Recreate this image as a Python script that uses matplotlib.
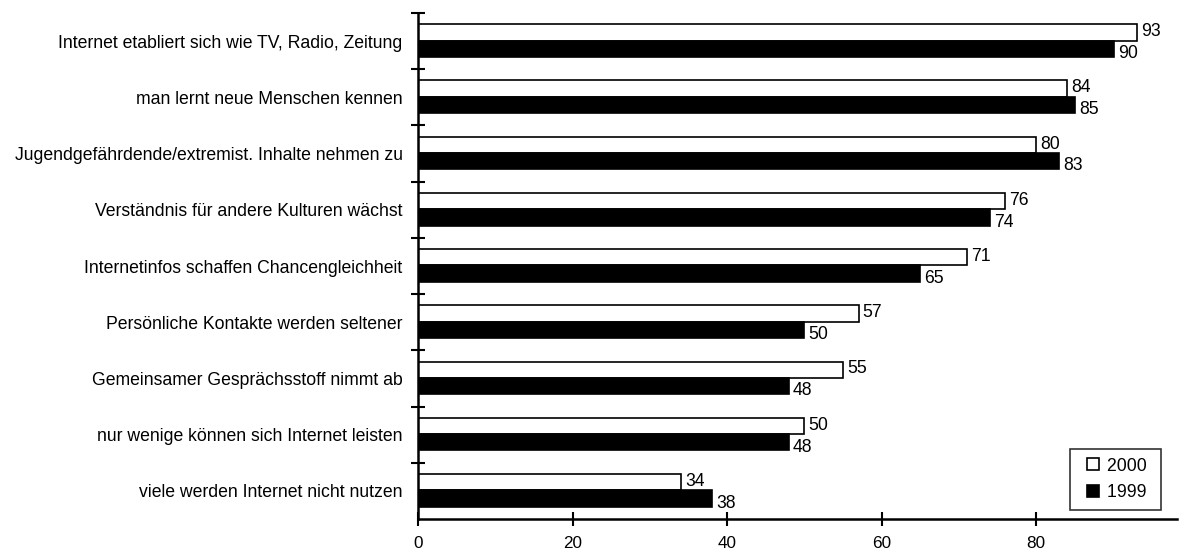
import matplotlib.pyplot as plt
import numpy as np
from matplotlib.lines import Line2D

plt.rcParams['font.family'] = ['Liberation Sans', 'DejaVu Sans']

# Data (top to bottom)
categories = [
    'Internet etabliert sich wie TV, Radio, Zeitung',
    'man lernt neue Menschen kennen',
    'Jugendgefährdende/extremist. Inhalte nehmen zu',
    'Verständnis für andere Kulturen wächst',
    'Internetinfos schaffen Chancengleichheit',
    'Persönliche Kontakte werden seltener',
    'Gemeinsamer Gesprächsstoff nimmt ab',
    'nur wenige können sich Internet leisten',
    'viele werden Internet nicht nutzen',
]
values_2000 = [93, 84, 80, 76, 71, 57, 55, 50, 34]
values_1999 = [90, 85, 83, 74, 65, 50, 48, 48, 38]
series = ['2000', '1999']
xticks = [0, 20, 40, 60, 80]

fs = 12.7

fig = plt.figure(figsize=(11.85, 5.54), dpi=100)
ax = fig.add_axes([0.3527, 0.0632, 0.6405, 0.9133])

y = np.arange(len(categories))
h = 0.29
ax.barh(y - 0.155, values_2000, height=h, color='white', edgecolor='black', linewidth=1.2)
ax.barh(y + 0.135, values_1999, height=h, color='black', edgecolor='black', linewidth=1.2)

for yi, v in zip(y, values_2000):
    ax.annotate(str(v), (v, yi - 0.17), xytext=(3, 0), textcoords='offset points',
                va='center', ha='left', fontsize=fs)
for yi, v in zip(y, values_1999):
    ax.annotate(str(v), (v, yi + 0.22), xytext=(3, 0), textcoords='offset points',
                va='center', ha='left', fontsize=fs)

ax.set_xlim(0, 98.2)
ax.set_ylim(len(categories) - 0.5, -0.5)

ax.set_yticks(y)
ax.set_yticklabels(categories, fontsize=fs)
ax.tick_params(axis='y', which='major', length=0, pad=11)
ax.set_yticks(np.arange(-0.5, len(categories) - 0.5, 1), minor=True)
ax.tick_params(axis='y', which='minor', direction='inout', length=10, width=1.5)

ax.set_xticks(xticks)
ax.tick_params(axis='x', direction='inout', length=10, width=1.5, labelsize=12.3, pad=7.5)

ax.spines['top'].set_visible(False)
ax.spines['right'].set_visible(False)
ax.spines['left'].set_linewidth(1.8)
ax.spines['bottom'].set_linewidth(1.8)

handles = [
    Line2D([], [], linestyle='none', marker='s', markersize=9,
           markerfacecolor='white', markeredgecolor='black', markeredgewidth=1.2),
    Line2D([], [], linestyle='none', marker='s', markersize=9,
           markerfacecolor='black', markeredgecolor='black', markeredgewidth=1.2),
]
leg = ax.legend(handles, [s + ' ' for s in series], loc='lower right',
                bbox_to_anchor=(0.99, 0.0), fontsize=fs,
                frameon=True, fancybox=False, edgecolor='black',
                handlelength=1.6, handletextpad=0.0,
                borderpad=0.5, labelspacing=0.55)
leg.get_frame().set_linewidth(1.2)

plt.savefig('out.png', dpi=100)
